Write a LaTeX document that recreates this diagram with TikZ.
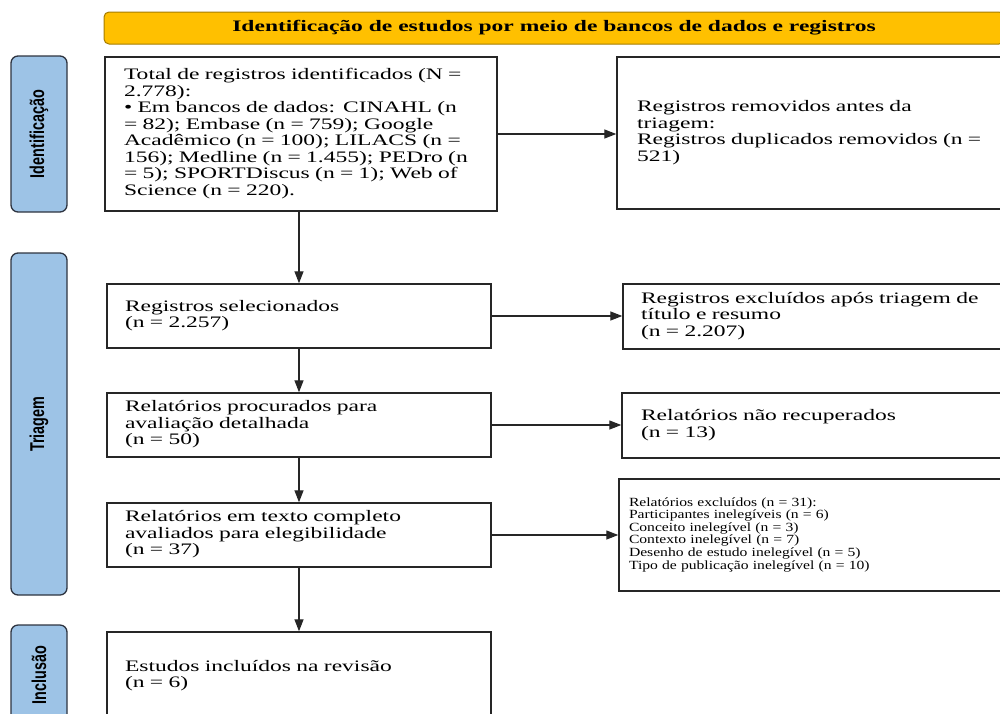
\documentclass[tikz,border=0pt]{standalone}
\usepackage{fontspec}
\setmainfont[FakeStretch=1.47]{Liberation Serif}
\newfontfamily\smallfont[FakeStretch=1.25]{Liberation Serif}
\newfontfamily\sidefont[FakeStretch=0.72]{Liberation Sans}
\usetikzlibrary{arrows.meta}
\definecolor{bannerfill}{HTML}{FFC000}
\definecolor{bannerdraw}{HTML}{A57C00}
\definecolor{sidefill}{HTML}{9DC3E6}
\definecolor{sidedraw}{HTML}{2E3440}
\definecolor{linec}{HTML}{262626}
\begin{document}
\begin{tikzpicture}[x=1pt,y=-1pt,
  box/.style={draw=linec, line width=1.4pt, rectangle, inner ysep=0pt,
    font=\fontsize{16}{16.5}\selectfont},
  smallbox/.style={box, font=\smallfont\fontsize{12.5}{12.6}\selectfont},
  side/.style={draw=sidedraw, fill=sidefill, line width=1.3pt, rounded corners=7pt,
    rotate=90, minimum height=56pt, inner sep=0pt,
    font=\sidefont\bfseries\fontsize{20}{22}\selectfont},
  banner/.style={draw=bannerdraw, fill=bannerfill, line width=1pt, rounded corners=5pt,
    minimum width=900pt, minimum height=32pt, inner sep=0pt,
    font=\bfseries\fontsize{16}{16.5}\selectfont},
  arr/.style={draw=linec, line width=1.3pt, -{Triangle[length=12pt,width=9pt]}}
]
\useasboundingbox (0,0) rectangle (1000,713);
\clip (0,0) rectangle (1000,713);

\node[banner] (banner) at (554,28) {Identificação de estudos por meio de bancos de dados e registros};

\node[side, minimum width=156pt] (sid) at (39,134) {Identificação};
\node[side, minimum width=342pt] (sitr) at (39,424) {Triagem};
\node[side, minimum width=100pt] (sinc) at (39,675) {Inclusão};

\node[box, minimum height=154pt, text width=354pt, inner xsep=19pt] (total) at (301,134)
 {\noindent\begin{tabular}{@{}l@{}}Total de registros identificados (N =\\ 2.778):\\ • Em bancos de dados: CINAHL (n\\ = 82); Embase (n = 759); Google\\ Acadêmico (n = 100); LILACS (n =\\ 156); Medline (n = 1.455); PEDro (n\\ = 5); SPORTDiscus (n = 1); Web of\\ Science (n = 220).\end{tabular}};

\node[box, minimum height=152pt, text width=355pt, inner xsep=20pt] (removed) at (814.5,133)
 {\noindent\begin{tabular}{@{}l@{}}Registros removidos antes da\\ triagem:\\ Registros duplicados removidos (n =\\ 521)\end{tabular}};

\node[box, minimum height=64pt, text width=348pt, inner xsep=18pt] (sel) at (299,316)
 {\noindent\begin{tabular}{@{}l@{}}Registros selecionados\\ (n = 2.257)\end{tabular}};

\node[box, minimum height=65pt, text width=353pt, inner xsep=18pt] (excl) at (817.5,316.5)
 {\noindent\begin{tabular}{@{}l@{}}Registros excluídos após triagem de\\ título e resumo\\ (n = 2.207)\end{tabular}};

\node[box, minimum height=64pt, text width=348pt, inner xsep=18pt] (proc) at (299,425)
 {\noindent\begin{tabular}{@{}l@{}}Relatórios procurados para\\ avaliação detalhada\\ (n = 50)\end{tabular}};

\node[box, minimum height=65pt, text width=352pt, inner xsep=19pt] (naorec) at (817,425.5)
 {\noindent\begin{tabular}{@{}l@{}}Relatórios não recuperados\\ (n = 13)\end{tabular}};

\node[box, minimum height=64pt, text width=348pt, inner xsep=18pt] (texto) at (299,535)
 {\noindent\begin{tabular}{@{}l@{}}Relatórios em texto completo\\ avaliados para elegibilidade\\ (n = 37)\end{tabular}};

\node[smallbox, minimum height=112pt, text width=373pt, inner xsep=10pt] (excl2) at (815.5,535)
 {\noindent\begin{tabular}{@{}l@{}}Relatórios excluídos (n = 31):\\ Participantes inelegíveis (n = 6)\\ Conceito inelegível (n = 3)\\ Contexto inelegível (n = 7)\\ Desenho de estudo inelegível (n = 5)\\ Tipo de publicação inelegível (n = 10)\end{tabular}};

\node[box, minimum height=88pt, text width=348pt, inner xsep=18pt] (inc) at (299,676)
 {\noindent\begin{tabular}{@{}l@{}}Estudos incluídos na revisão\\ (n = 6)\end{tabular}};

\draw[arr] (sel.north |- total.south) -- (sel.north);
\draw[arr] (sel.south) -- (proc.north);
\draw[arr] (proc.south) -- (texto.north);
\draw[arr] (texto.south) -- (inc.north);

\draw[arr] (total.east) -- (total.east -| removed.west);
\draw[arr] (sel.east) -- (sel.east -| excl.west);
\draw[arr] (proc.east) -- (proc.east -| naorec.west);
\draw[arr] (texto.east) -- (texto.east -| excl2.west);
\end{tikzpicture}
\end{document}
